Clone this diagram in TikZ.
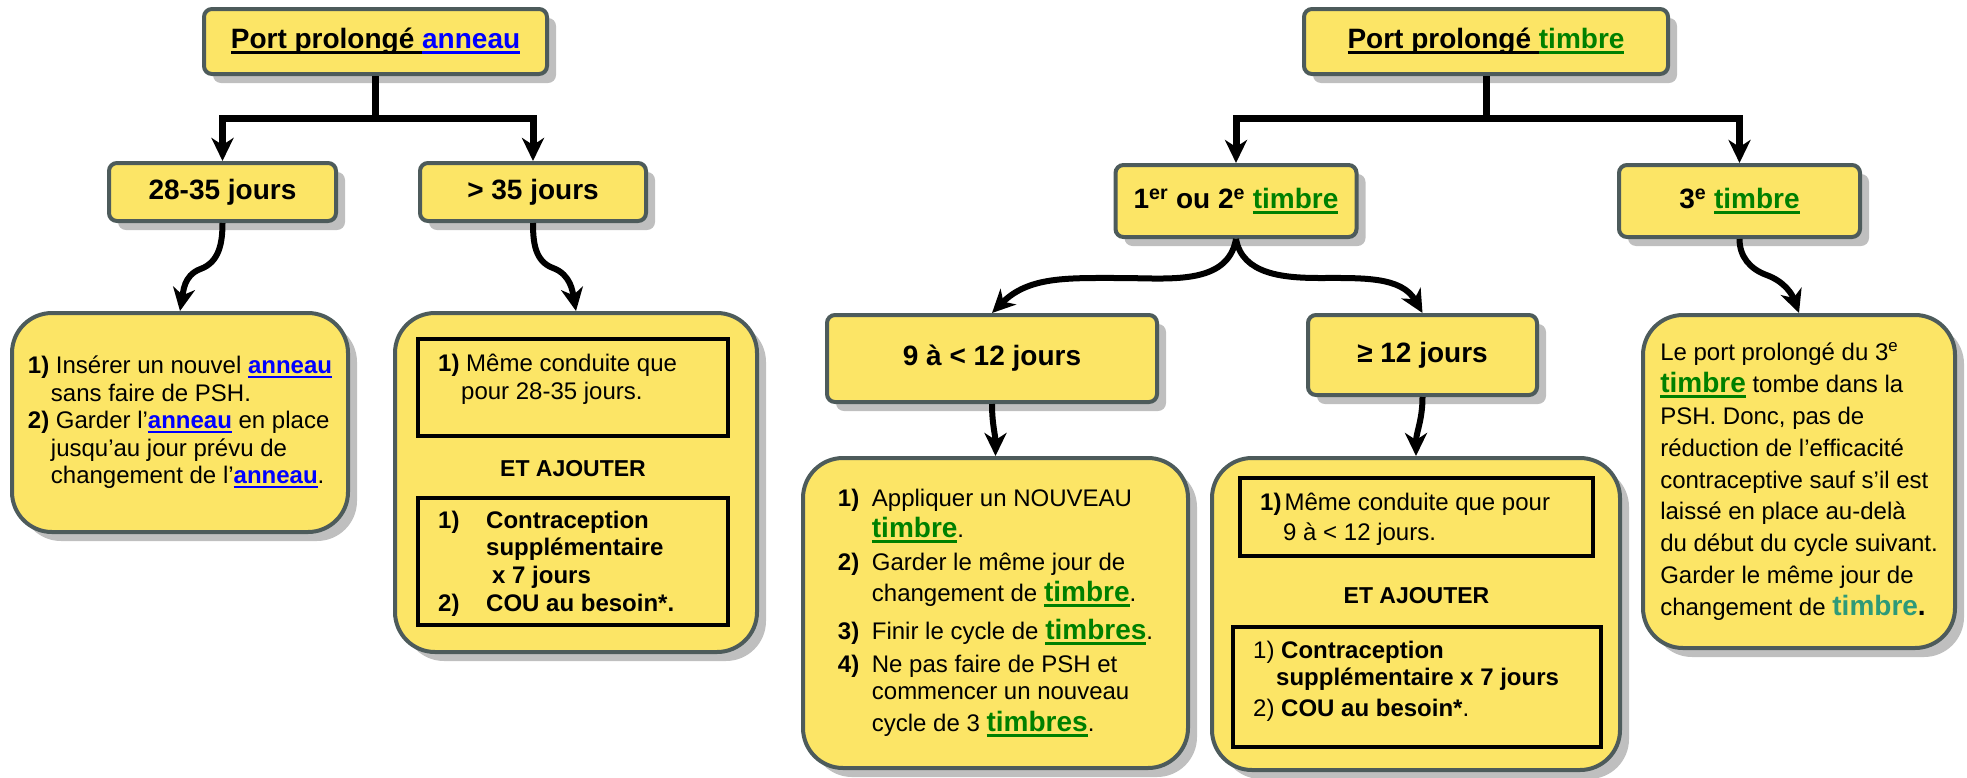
\documentclass[tikz,border=0pt]{standalone}
\usepackage{fontspec}
\setmainfont{Liberation Sans}
\usepackage{xcolor}
\usetikzlibrary{arrows.meta,positioning,shadows}

\definecolor{boxyellow}{RGB}{252,229,102}
\definecolor{boxedge}{RGB}{77,91,91}
\definecolor{ringblue}{RGB}{0,0,255}
\definecolor{patchgreen}{RGB}{0,128,0}
\definecolor{patchteal}{RGB}{46,154,120}

\newsavebox{\ulbox}
\newcommand{\undl}[1]{\sbox{\ulbox}{#1}\rlap{\vrule width\wd\ulbox height -0.08em depth 0.19em}\usebox{\ulbox}}
\newcommand{\ann}[1]{\textcolor{ringblue}{\textbf{\undl{#1}}}}
\newcommand{\tim}[1]{{\fontsize{28}{28}\selectfont\textcolor{patchgreen}{\textbf{\undl{#1}}}}}
\newcommand{\lbl}[1]{\makebox[34pt][l]{\textbf{#1}}}

\begin{document}
\begin{tikzpicture}[x=1pt,y=-1pt,>={Stealth[length=23pt,width=22pt,inset=7pt]},
			link/.style={->,line width=7pt},
			wave/.style={->,line width=6pt}]
				\tikzstyle{headbox}=[draw=boxedge,fill=boxyellow,line width=4pt,rounded corners=8pt,
				drop shadow={shadow xshift=9pt,shadow yshift=-9pt},inner sep=0pt,
				font=\fontsize{28}{32}\selectfont\bfseries]
				\tikzstyle{bigbox}=[draw=boxedge,fill=boxyellow,line width=4pt,rounded corners=40pt,
				drop shadow={shadow xshift=9pt,shadow yshift=-9pt},inner sep=0pt,align=left,
				font=\fontsize{24}{27.5}\selectfont]
				\tikzstyle{inbox}=[draw=black,line width=4pt,inner sep=0pt]
				\tikzstyle{body}=[inner sep=0pt,align=left,font=\fontsize{24}{28}\selectfont]
				\tikzstyle{addlabel}=[inner sep=0pt,font=\fontsize{23}{27}\selectfont\bfseries]

				\useasboundingbox (0,0) rectangle (1967,777);

				% anneau
				\node[headbox,minimum width=343pt,minimum height=65pt] (A) at (375.5,41.5)
					{\undl{Port prolongé }\textcolor{ringblue}{\undl{anneau}}};
				\node[headbox,minimum width=227pt,minimum height=58pt] (B) at (222.5,192) {28-35 jours};
				\node[headbox,minimum width=226pt,minimum height=58pt] (C) at (533,192) {> 35 jours};

				\node[bigbox,minimum width=336pt,minimum height=219pt] (D) at (180,422.5)
					{\textbf{1)} Insérer un nouvel \ann{anneau}\\
					\hspace{23pt}sans faire de PSH.\\
					\textbf{2)} Garder l’\ann{anneau} en place\\
					\hspace{23pt}jusqu’au jour prévu de\\
					\hspace{23pt}changement de l’\ann{anneau}.};

				\node[bigbox,minimum width=362pt,minimum height=339pt] (E) at (576,482.5) {};
				\node[inbox,minimum width=310pt,minimum height=97pt] (F) at (573,387.5) {};
				\node[inbox,minimum width=310pt,minimum height=127pt] (G) at (573,561.5) {};
				\node[body,below right=16.5pt and 22pt of F.north west] (Ft)
					{\textbf{1)} Même conduite que\\\hspace{23pt}pour 28-35 jours.};
				\node[addlabel,below=22.5pt of F.south] (Ea) {ET AJOUTER};
				\node[body,below right=14.5pt and 22pt of G.north west,
					font=\fontsize{24}{27.7}\selectfont\bfseries] (Gt)
					{\makebox[48pt][l]{1)}Contraception\\
					\hspace{48pt}supplémentaire\\
					\hspace{54pt}x 7 jours\\
					\makebox[48pt][l]{2)}COU au besoin*.};

				% timbre
				\node[headbox,minimum width=364pt,minimum height=65pt] (H) at (1486,41.5)
					{\undl{Port prolongé }\textcolor{patchgreen}{\undl{timbre}}};
				\node[headbox,minimum width=241pt,minimum height=72pt] (I) at (1236,201)
					{1\textsuperscript{er} ou 2\textsuperscript{e} \textcolor{patchgreen}{\undl{timbre}}};
				\node[headbox,minimum width=241pt,minimum height=72pt] (J) at (1739.5,201)
					{3\textsuperscript{e} \textcolor{patchgreen}{\undl{timbre}}};
				\node[headbox,minimum width=330pt,minimum height=87pt] (K) at (992,358.5) {9 à < 12 jours};
				\node[headbox,minimum width=229pt,minimum height=80pt] (L) at (1422.5,355) {≥ 12 jours};

				\node[bigbox,minimum width=385pt,minimum height=310pt] (M) at (995.5,613)
					{\lbl{1)}Appliquer un NOUVEAU\\[3pt]
					\hspace{34pt}\tim{timbre}.\\[6pt]
					\lbl{2)}Garder le même jour de\\[3pt]
					\hspace{34pt}changement de \tim{timbre}.\\[11pt]
					\lbl{3)}Finir le cycle de \tim{timbres}.\\[5pt]
					\lbl{4)}Ne pas faire de PSH et\\
					\hspace{34pt}commencer un nouveau\\[4pt]
					\hspace{34pt}cycle de 3 \tim{timbres}.};

				\node[bigbox,minimum width=408pt,minimum height=312pt] (N) at (1416,614) {};
				\node[inbox,minimum width=353pt,minimum height=78pt] (O) at (1416.5,517) {};
				\node[inbox,minimum width=368pt,minimum height=120pt] (P) at (1417,687) {};
				\node[body,below right=16.5pt and 22pt of O.north west] (Ot)
					{\textbf{1)}\hspace{3pt}Même conduite que pour\\[2pt]\hspace{23pt}9 à < 12 jours.};
				\node[addlabel,below=29.5pt of O.south] (Na) {ET AJOUTER};
				\node[body,below right=15.5pt and 22pt of P.north west,font=\fontsize{24}{27}\selectfont] (Pt)
					{1) \textbf{Contraception}\\
					\hspace{23pt}\textbf{supplémentaire x 7 jours}\\[4pt]
					2) \textbf{COU au besoin*}.};

				\node[bigbox,minimum width=312pt,minimum height=333pt,font=\fontsize{24}{31.9}\selectfont] (Q) at (1799,481.5)
					{Le port prolongé du 3\textsuperscript{e}\\
					\tim{timbre} tombe dans la\\
					PSH. Donc, pas de\\
					réduction de l’efficacité\\
					contraceptive sauf s’il est\\
					laissé en place au-delà\\
					du début du cycle suivant.\\
					Garder le même jour de\\
					changement de {\fontsize{28}{28}\selectfont\textbf{\textcolor{patchteal}{timbre}.}}};

				% connectors
				\coordinate (Afork) at (375.5,118);
				\coordinate (Hfork) at (1486,118);
				\draw[link] (A.south) -- (Afork) -| (B.north);
				\draw[link] (Afork) -| (C.north);
				\draw[link] (H.south) -- (Hfork) -| (I.north);
				\draw[link] (Hfork) -| (J.north);

				\draw[wave] (B.south) to[out=-90,in=20] ++(-22,46) to[out=200,in=80] (D.north);
				\draw[wave] (C.south) to[out=-90,in=160] ++(20,45) to[out=-20,in=100] (E.north);
				\draw[wave] (J.south) to[out=-90,in=160] ++(27,36) to[out=-20,in=110] (Q.north);
				\draw[wave] (I.south) to[out=-100,in=0] ++(-116,39) to[out=180,in=45] (K.north);
				\draw[wave] (I.south) to[out=-80,in=180] ++(84,39) to[out=0,in=120] (L.north);
				\draw[wave] (K.south) to[out=-90,in=90] (M.north);
				\draw[wave] (L.south) to[out=-90,in=90] (N.north);
\end{tikzpicture}
\end{document}
